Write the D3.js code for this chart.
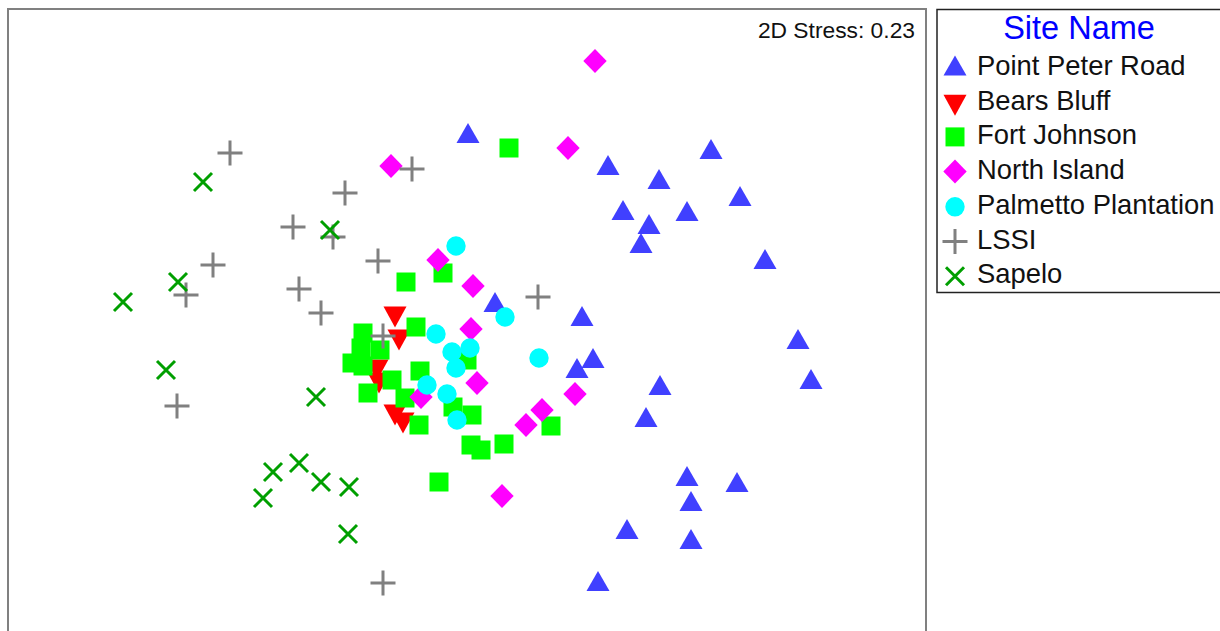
<!DOCTYPE html>
<html>
<head>
<meta charset="utf-8">
<script src="https://cdn.jsdelivr.net/npm/d3@7"></script>
<style>
  body { margin: 0; background: #fff; }
  text { font-family: "Liberation Sans", Arial, sans-serif; }
</style>
</head>
<body>
<svg id="mds" width="1220" height="631"></svg>
<script>
// NMDS ordination scores (MDS1, MDS2)
const siteNames = ["Point Peter Road", "Bears Bluff", "Fort Johnson", "North Island",
  "Palmetto Plantation", "LSSI", "Sapelo"];

const pointPeterRoad = [
  [0.01, 1.87], [2.44, 1.71], [1.41, 1.55], [1.92, 1.41], [2.73, 1.24], [1.56, 1.10],
  [2.20, 1.09], [1.82, 0.96], [1.74, 0.77], [2.98, 0.61], [0.28, 0.18], [1.15, 0.04],
  [3.31, -0.19], [1.26, -0.38], [1.10, -0.48], [3.44, -0.59], [1.93, -0.65], [1.79, -0.97],
  [2.20, -1.56], [2.70, -1.62], [2.24, -1.81], [1.60, -2.09], [2.24, -2.19], [1.31, -2.61]
];
const bearsBluff = [
  [-0.72, 0.03], [-0.68, -0.20], [-0.90, -0.50], [-0.88, -0.63], [-0.72, -0.95], [-0.64, -1.03]
];
const fortJohnson = [
  [0.42, 1.72], [-0.24, 0.47], [-0.61, 0.38], [-0.51, -0.07], [-1.04, -0.13], [-1.06, -0.28],
  [-0.87, -0.30], [-1.15, -0.43], [-1.04, -0.46], [-0.47, -0.51], [-0.75, -0.60], [-0.99, -0.73],
  [-0.62, -0.78], [-0.48, -1.05], [0.00, -0.40], [-0.14, -0.87], [0.05, -0.95], [0.04, -1.25],
  [0.14, -1.30], [0.37, -1.24], [0.84, -1.06], [-0.28, -1.62]
];
const northIsland = [
  [1.28, 2.59], [1.01, 1.72], [-0.76, 1.54], [-0.29, 0.60], [0.06, 0.34], [0.04, -0.09],
  [0.10, -0.63], [-0.46, -0.77], [1.08, -0.74], [0.75, -0.90], [0.59, -1.05], [0.35, -1.76]
];
const palmettoPlantation = [
  [-0.11, 0.74], [0.38, 0.03], [-0.31, -0.14], [-0.15, -0.32], [0.03, -0.28], [-0.11, -0.48],
  [0.72, -0.38], [-0.40, -0.65], [-0.20, -0.74], [-0.10, -1.00]
];
const lssi = [
  [-2.37, 1.67], [-0.55, 1.51], [-1.22, 1.27], [-1.74, 0.93], [-1.34, 0.83], [-0.89, 0.59],
  [-2.54, 0.55], [-2.81, 0.25], [-1.68, 0.31], [-1.46, 0.07], [0.71, 0.23], [-0.84, -0.16],
  [-2.90, -0.86], [-0.84, -2.63]
];
const sapelo = [
  [-2.64, 1.38], [-1.37, 0.90], [-2.89, 0.38], [-3.44, 0.18], [-3.01, -0.50], [-1.51, -0.77],
  [-1.94, -1.52], [-1.68, -1.43], [-1.46, -1.62], [-1.18, -1.67], [-2.04, -1.78], [-1.19, -2.14]
];
const stressValue = 0.23;

// custom marker shapes (bbox centred on the point)
const triUp = { draw(c) { c.moveTo(0, -10); c.lineTo(11.5, 10); c.lineTo(-11.5, 10); c.closePath(); } };
const triDown = { draw(c) { c.moveTo(0, 10.5); c.lineTo(11.5, -10.5); c.lineTo(-11.5, -10.5); c.closePath(); } };
const square = { draw(c) { c.rect(-9.5, -9.5, 19, 19); } };
const diamond = { draw(c) { c.moveTo(0, -12); c.lineTo(11.7, 0); c.lineTo(0, 12); c.lineTo(-11.7, 0); c.closePath(); } };
const circle = { draw(c) { c.moveTo(9.7, 0); c.arc(0, 0, 9.7, 0, 2 * Math.PI); } };
const plus = { draw(c) { c.moveTo(-12.5, 0); c.lineTo(12.5, 0); c.moveTo(0, -12.5); c.lineTo(0, 12.5); } };
const cross = { draw(c) { c.moveTo(-9, -9); c.lineTo(9, 9); c.moveTo(9, -9); c.lineTo(-9, 9); } };

const styles = [
  { shape: triUp, fill: "#4040ff", stroke: "none", dy: -9.5 },
  { shape: triDown, fill: "#ff0000", stroke: "none", dy: -4.5 },
  { shape: square, fill: "#00ff00", stroke: "none", dy: -7.5 },
  { shape: diamond, fill: "#ff00ff", stroke: "none", dy: -7.5 },
  { shape: circle, fill: "#00ffff", stroke: "none", dy: -7 },
  { shape: plus, fill: "none", stroke: "#808080", dy: -7 },
  { shape: cross, fill: "none", stroke: "#009f00", dy: -7 }
];

const series = [pointPeterRoad, bearsBluff, fortJohnson, northIsland, palmettoPlantation, lssi, sapelo];
const sites = siteNames.map((name, i) => ({ name, points: series[i], style: styles[i] }));

const svg = d3.select("#mds");

// plot frame
const frame = { left: 8, top: 9, right: 926, bottom: 633 };
const x = d3.scaleLinear().domain([-4.59, 4.59]).range([frame.left, frame.right]);
const y = d3.scaleLinear().domain([-3.13, 3.11]).range([frame.bottom, frame.top]);

svg.append("rect")
  .attr("x", frame.left)
  .attr("y", frame.top)
  .attr("width", frame.right - frame.left)
  .attr("height", frame.bottom - frame.top)
  .attr("fill", "#fff")
  .attr("stroke", "#808080")
  .attr("stroke-width", 2);

// points, drawn in legend order
const groups = svg.selectAll(".site")
  .data(sites)
  .enter()
  .append("g")
  .attr("class", "site");

groups.selectAll("path")
  .data((d) => d.points.map((p) => ({ p, style: d.style })))
  .enter()
  .append("path")
  .attr("transform", (d) => `translate(${x(d.p[0])},${y(d.p[1])})`)
  .attr("d", (d) => d3.symbol(d.style.shape)())
  .attr("fill", (d) => d.style.fill)
  .attr("stroke", (d) => d.style.stroke)
  .attr("stroke-width", 3);

// stress label
svg.append("text")
  .attr("x", 915)
  .attr("y", 37.5)
  .attr("text-anchor", "end")
  .style("font-size", "22.8px")
  .style("fill", "#111")
  .text(`2D Stress: ${stressValue.toFixed(2)}`);

// legend
const legend = svg.append("g");
legend.append("rect")
  .attr("x", 937)
  .attr("y", 9.5)
  .attr("width", 300)
  .attr("height", 283)
  .attr("fill", "#fff")
  .attr("stroke", "#222")
  .attr("stroke-width", 1.5);

legend.append("text")
  .attr("x", 1079)
  .attr("y", 39)
  .attr("text-anchor", "middle")
  .style("font-size", "32.5px")
  .style("fill", "#0000ff")
  .text("Site Name");

const items = legend.selectAll(".item")
  .data(sites)
  .enter()
  .append("g")
  .attr("class", "item")
  .attr("transform", (d, i) => `translate(0, ${75 + i * 34.7})`);

items.append("path")
  .attr("transform", (d) => `translate(955, ${d.style.dy})`)
  .attr("d", (d) => d3.symbol(d.style.shape)())
  .attr("fill", (d) => d.style.fill)
  .attr("stroke", (d) => d.style.stroke)
  .attr("stroke-width", 3);

items.append("text")
  .attr("x", 977)
  .attr("y", 0)
  .style("font-size", "27.4px")
  .style("fill", "#111")
  .text((d) => d.name);
</script>
</body>
</html>
